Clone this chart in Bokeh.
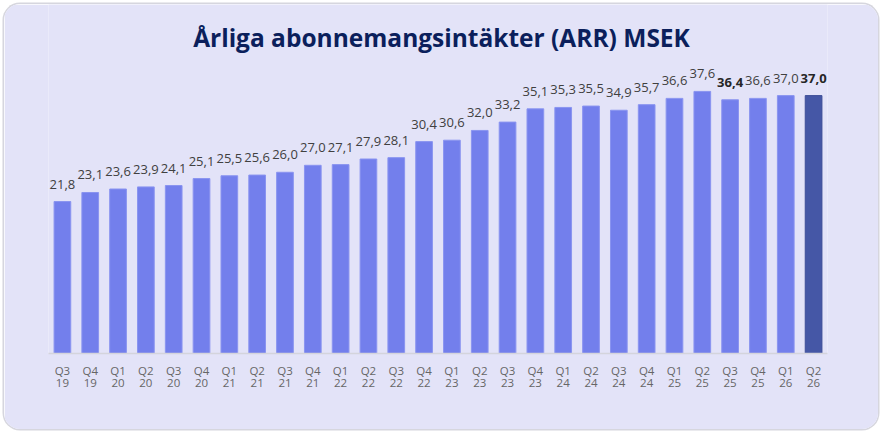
from bokeh.plotting import figure
from bokeh.models import ColumnDataSource, Range1d, FixedTicker, Label
from bokeh.core.properties import value
from bokeh.embed import file_html
from bokeh.resources import INLINE

# Quarterly ARR (MSEK)
quarters = ["Q3", "Q4",
            "Q1", "Q2", "Q3", "Q4",
            "Q1", "Q2", "Q3", "Q4",
            "Q1", "Q2", "Q3", "Q4",
            "Q1", "Q2", "Q3", "Q4",
            "Q1", "Q2", "Q3", "Q4",
            "Q1", "Q2", "Q3", "Q4",
            "Q1", "Q2"]
years = ["19", "19",
         "20", "20", "20", "20",
         "21", "21", "21", "21",
         "22", "22", "22", "22",
         "23", "23", "23", "23",
         "24", "24", "24", "24",
         "25", "25", "25", "25",
         "26", "26"]
arr_msek = [21.8, 23.1, 23.6, 23.9, 24.1, 25.1, 25.5, 25.6, 26.0, 27.0,
            27.1, 27.9, 28.1, 30.4, 30.6, 32.0, 33.2, 35.1, 35.3, 35.5,
            34.9, 35.7, 36.6, 37.6, 36.4, 36.6, 37.0, 37.0]
bold_labels = {"Q3 25", "Q2 26"}
highlight = "Q2 26"

title_text = "Årliga abonnemangsintäkter (ARR) MSEK"

CARD = "#E3E3F8"
BAR = "#737FEC"
BAR_EDGE = "#8A94F0"
BAR_HI = "#4557A6"
BAR_HI_EDGE = "#3E4F98"

n = len(arr_msek)
idx = list(range(n))
keys = [f"{q} {y}" for q, y in zip(quarters, years)]
src = ColumnDataSource(dict(
    x=idx,
    top=arr_msek,
    label=[f"{v:.1f}".replace(".", ",") for v in arr_msek],
    fill=[BAR_HI if k == highlight else BAR for k in keys],
    edge=[BAR_HI_EDGE if k == highlight else BAR_EDGE for k in keys],
    fstyle=["bold" if k in bold_labels else "normal" for k in keys],
    tcolor=["#262626" if k in bold_labels else "#404040" for k in keys],
))

p = figure(width=874, height=425, output_backend="svg", toolbar_location=None,
           x_range=Range1d(-0.5, n - 0.5), y_range=Range1d(0, 50.07),
           y_axis_location=None, min_border_left=44, min_border_right=51,
           min_border_top=0, min_border_bottom=76)
p.margin = (4, 5, 5, 4)
# the figure itself is the rounded card
p.styles = {"border-radius": "16px", "overflow": "hidden",
            "box-shadow": "0 0 0 1.5px #D6D6DE"}
p.border_fill_color = CARD
p.background_fill_color = CARD
p.outline_line_color = None
p.grid.visible = False

p.vbar(x="x", top="top", width=0.6, source=src, fill_color="fill",
       line_color="edge", line_width=1)

p.text(x="x", y="top", text="label", source=src, text_align="center",
       text_baseline="bottom", y_offset=-13, text_font=value("Open Sans"),
       text_font_size="13px", text_font_style="fstyle", text_color="tcolor")

p.add_layout(Label(x=437, x_units="canvas", y=45.34, text=title_text,
                   text_align="center", text_baseline="middle",
                   text_font="Open Sans", text_font_size="24.5px",
                   text_font_style="bold", text_color="#0B1F5C"))

xa = p.xaxis[0]
xa.ticker = FixedTicker(ticks=idx)
xa.major_label_overrides = {i: f"{q}\n{y}" for i, q, y in zip(idx, quarters, years)}
xa.major_tick_line_color = None
xa.minor_tick_line_color = None
xa.axis_line_color = "#D4D4DC"
xa.axis_line_width = 1.5
xa.major_label_standoff = 3
xa.major_label_text_font = "Open Sans"
xa.major_label_text_font_size = "11.5px"
xa.major_label_text_line_height = 0.8
xa.major_label_text_color = "#666666"

open("out.html", "w").write(file_html(p, INLINE))
